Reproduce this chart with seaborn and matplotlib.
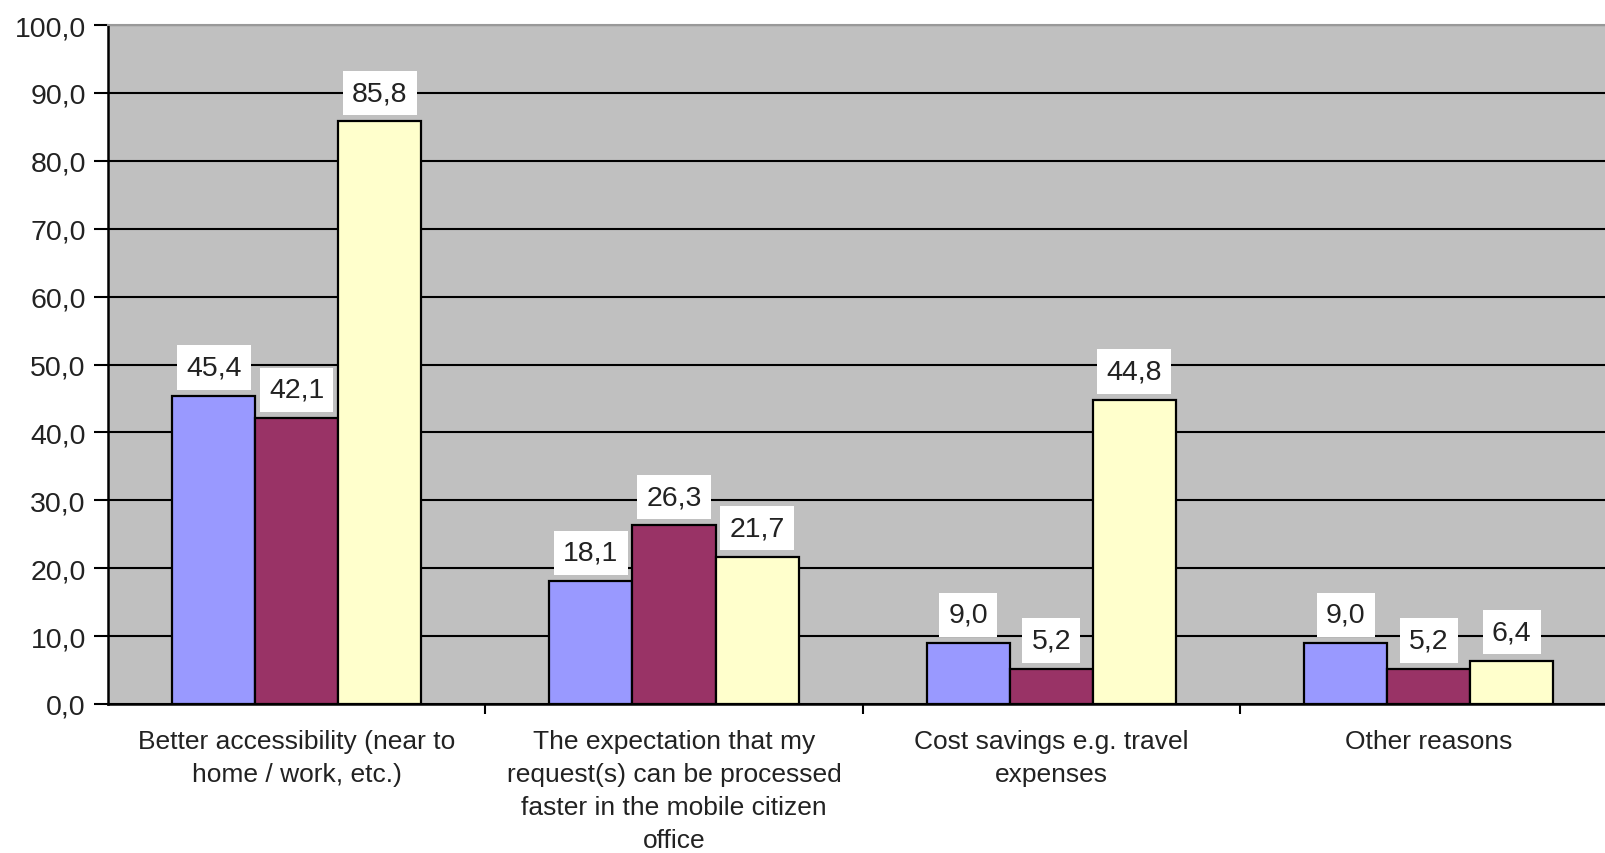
import matplotlib
matplotlib.use("Agg")
import matplotlib.pyplot as plt
import matplotlib.ticker as mticker
import seaborn as sns
import pandas as pd

# Survey reasons (x categories) and the three respondent groups
reasons = [
    "Better accessibility (near to\nhome / work, etc.)",
    "The expectation that my\nrequest(s) can be processed\nfaster in the mobile citizen\noffice",
    "Cost savings e.g. travel\nexpenses",
    "Other reasons",
]
groups = ["Group 1", "Group 2", "Group 3"]
group1 = [45.4, 18.1, 9.0, 9.0]
group2 = [42.1, 26.3, 5.2, 5.2]
group3 = [85.8, 21.7, 44.8, 6.4]
colors = ["#9999FF", "#993366", "#FFFFCC"]
y_ticks = [0, 10, 20, 30, 40, 50, 60, 70, 80, 90, 100]

rows = []
for g, vals in zip(groups, [group1, group2, group3]):
    for r, v in zip(reasons, vals):
        rows.append({"reason": r, "group": g, "value": v})
df = pd.DataFrame(rows)

sns.set_theme(style="white")
plt.rcParams["font.family"] = ["Liberation Sans", "DejaVu Sans"]

fig = plt.figure(figsize=(16.06, 8.54), dpi=100)
ax = fig.add_axes([108 / 1606, 149 / 854, 1 - 108 / 1606, (705 - 26) / 854])
ax.set_facecolor("#C0C0C0")

sns.barplot(
    data=df, x="reason", y="value", hue="group", order=reasons,
    hue_order=groups, palette=colors, saturation=1, width=0.66,
    edgecolor="black", linewidth=1.6, legend=False, ax=ax, zorder=3,
)

ax.set_ylim(0, 100)
ax.set_xlim(-0.5, 3.47)
ax.set_yticks(y_ticks)
ax.yaxis.set_major_formatter(
    mticker.FuncFormatter(lambda v, _: f"{v:.1f}".replace(".", ","))
)
ax.yaxis.grid(True, color="black", linewidth=1.5, zorder=1)
ax.set_axisbelow(True)
ax.tick_params(axis="y", direction="out", length=10, width=1.5,
               color="black", pad=6, labelsize=20.5, labelcolor="#222222",
               left=True)

# category labels centred, boundary ticks between categories
ax.set_xticks(range(len(reasons)))
ax.set_xticklabels(reasons, fontsize=19, color="#222222", linespacing=1.47,
                   va="top")
ax.tick_params(axis="x", which="major", length=0, pad=18)
ax.set_xticks([0.5, 1.5, 2.5], minor=True)
ax.tick_params(axis="x", which="minor", direction="out", length=7,
               width=1.5, color="black", bottom=True)
ax.set_xlabel("")
ax.set_ylabel("")

for side in ["left", "bottom"]:
    ax.spines[side].set_color("black")
    ax.spines[side].set_linewidth(1.8)
ax.spines["top"].set_color("#999999")
ax.spines["top"].set_linewidth(1.5)
ax.spines["right"].set_visible(False)

# value labels in white boxes above each bar
for cont, vals in zip(ax.containers, [group1, group2, group3]):
    ax.bar_label(
        cont, labels=[f"{v:.1f}".replace(".", ",") for v in vals],
        padding=11, fontsize=20.5, color="#222222",
        bbox=dict(facecolor="white", edgecolor="none", pad=6.5),
    )

fig.savefig("out.png", dpi=100)
